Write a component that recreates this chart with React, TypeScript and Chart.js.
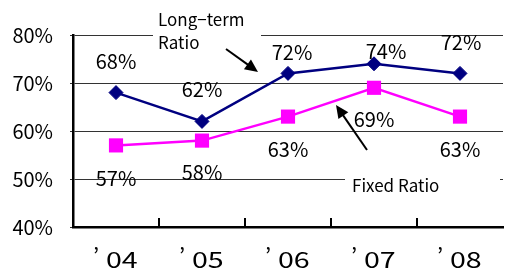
import React, { useEffect, useRef } from "react";
import { Chart, registerables } from "chart.js";

Chart.register(...registerables);

const years = ["’04", "’05", "’06", "’07", "’08"];
const longTerm = [68, 62, 72, 74, 72];
const fixedRatio = [57, 58, 63, 69, 63];
const yMin = 40;
const yMax = 80;
const yStep = 10;

const FONT = "'Noto Sans CJK JP', 'Noto Sans', sans-serif";

// label offsets (px) relative to each point
const longTermLabelOffsets = [[0, -31], [0, -32], [4, -21], [12, -12], [1, -31]];
const fixedLabelOffsets = [[0, 33], [0, 32], [0, 33], [0, 32], [0, 33]];

function arrow(ctx: CanvasRenderingContext2D, x1: number, y1: number, x2: number, y2: number) {
  const ang = Math.atan2(y2 - y1, x2 - x1);
  const len = 13;
  const half = 6;
  ctx.save();
  ctx.strokeStyle = "#000";
  ctx.fillStyle = "#000";
  ctx.lineWidth = 2;
  ctx.beginPath();
  ctx.moveTo(x1, y1);
  ctx.lineTo(x2 - Math.cos(ang) * len * 0.8, y2 - Math.sin(ang) * len * 0.8);
  ctx.stroke();
  ctx.beginPath();
  ctx.moveTo(x2, y2);
  ctx.lineTo(x2 - Math.cos(ang) * len + Math.sin(ang) * half, y2 - Math.sin(ang) * len - Math.cos(ang) * half);
  ctx.lineTo(x2 - Math.cos(ang) * len - Math.sin(ang) * half, y2 - Math.sin(ang) * len + Math.cos(ang) * half);
  ctx.closePath();
  ctx.fill();
  ctx.restore();
}

const decorPlugin = {
  id: "decor",
  afterDraw(chart: any) {
    const { ctx, chartArea, scales } = chart;
    const xs = scales.x;
    const ys = scales.y;
    const catW = (chartArea.right - chartArea.left) / years.length;
    ctx.save();
    // inner tick marks on x axis
    ctx.strokeStyle = "#000";
    ctx.lineWidth = 2;
    for (let i = 1; i < years.length; i++) {
      const x = Math.round(chartArea.left + i * catW);
      ctx.beginPath();
      ctx.moveTo(x, chartArea.bottom - 9);
      ctx.lineTo(x, chartArea.bottom);
      ctx.stroke();
    }
    // x category labels (wide quote + wide digits, as in the original)
    ctx.fillStyle = "#000";
    ctx.textBaseline = "middle";
    ctx.font = `22px ${FONT}`;
    years.forEach((lab, i) => {
      const cx = xs.getPixelForValue(i);
      const q = lab.slice(0, 1);
      const rest = lab.slice(1);
      ctx.textAlign = "center";
      ctx.fillText(q, cx - 20, chartArea.bottom + 29);
      ctx.save();
      ctx.translate(cx - 10, chartArea.bottom + 33);
      ctx.scale(1.3, 1);
      ctx.textAlign = "left";
      ctx.fillText(rest, 0, 0);
      ctx.restore();
    });
    // data labels
    ctx.font = `20px ${FONT}`;
    ctx.textAlign = "center";
    ctx.textBaseline = "middle";
    const series: [number[], number[][]][] = [
      [longTerm, longTermLabelOffsets],
      [fixedRatio, fixedLabelOffsets],
    ];
    series.forEach(([vals, offs]) => {
      vals.forEach((v, i) => {
        const x = xs.getPixelForValue(i) + offs[i][0];
        const y = ys.getPixelForValue(v) + offs[i][1];
        ctx.fillText(`${v}%`, x, y);
      });
    });
    // annotation: Long-term Ratio
    const L = chartArea.left;
    const T = chartArea.top;
    ctx.fillStyle = "#fff";
    ctx.fillRect(L + 80, T - 30, 108, 52);
    ctx.fillStyle = "#000";
    ctx.font = `17px ${FONT}`;
    ctx.textAlign = "left";
    ctx.fillText("Long−term", L + 85, T - 15);
    ctx.fillText("Ratio", L + 85, T + 8);
    arrow(ctx, L + 153, T + 14, L + 185, T + 37);
    // annotation: Fixed Ratio
    const y50 = ys.getPixelForValue(50);
    ctx.fillStyle = "#fff";
    ctx.fillRect(L + 272, y50 - 10, 155, 30);
    ctx.fillStyle = "#000";
    ctx.fillText("Fixed Ratio", L + 279, y50 + 7);
    arrow(ctx, L + 294, T + 115, L + 263, T + 70);
    ctx.restore();
  },
};

export default function App() {
  const ref = useRef<HTMLCanvasElement | null>(null);
  useEffect(() => {
    document.body.style.margin = "0";
    const c = ref.current;
    if (!c) return;
    const chart = new Chart(c, {
      type: "line",
      data: {
        labels: years,
        datasets: [
          {
            label: "Long-term Ratio",
            data: longTerm,
            borderColor: "#000080",
            backgroundColor: "#000080",
            borderWidth: 2.5,
            pointStyle: "rectRot",
            pointRadius: 7,
            pointBorderWidth: 1,
          },
          {
            label: "Fixed Ratio",
            data: fixedRatio,
            borderColor: "#FF00FF",
            backgroundColor: "#FF00FF",
            borderWidth: 2.5,
            pointStyle: "rect",
            pointRadius: 10,
            pointBorderWidth: 0,
          },
        ],
      },
      options: {
        animation: false,
        responsive: false,
        layout: { padding: { top: 35, right: 0, left: 0, bottom: 0 } },
        plugins: { legend: { display: false }, tooltip: { enabled: false } },
        scales: {
          x: {
            offset: true,
            grid: { display: false, drawTicks: false },
            border: { display: true, color: "#000", width: 2.5 },
            ticks: { display: false },
            afterFit: (s: any) => { s.height = 43; },
          },
          y: {
            min: yMin,
            max: yMax,
            ticks: {
              stepSize: yStep,
              color: "#000",
              font: { family: FONT, size: 20 },
              padding: 17,
              callback: (v: any) => `${v}%`,
            },
            grid: { color: "#333", lineWidth: 1, tickLength: 3 },
            border: { display: true, color: "#000", width: 2.5 },
            afterFit: (s: any) => { s.width = 73; },
          },
        },
      },
      plugins: [decorPlugin],
    });
    return () => chart.destroy();
  }, []);
  return (
    <div style={{ width: 513, height: 270 }}>
      <canvas ref={ref} width={513} height={270} />
    </div>
  );
}
